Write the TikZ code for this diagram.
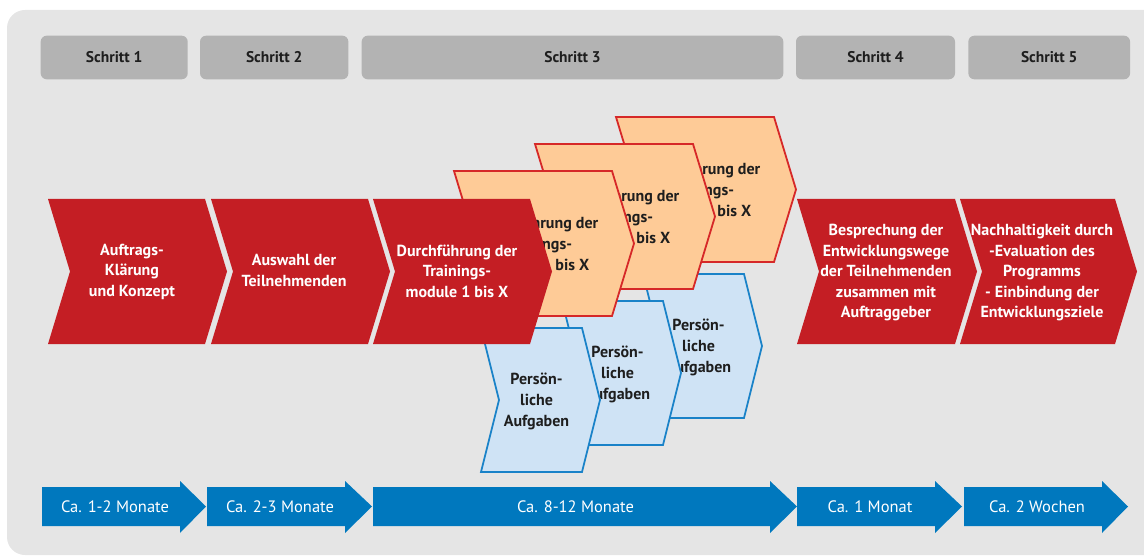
\documentclass[tikz,border=0pt]{standalone}
\usepackage{fontspec}
\setmainfont{PT Sans}
\definecolor{bgc}{HTML}{E5E5E5}
\definecolor{schrittc}{HTML}{B3B3B3}
\definecolor{redc}{HTML}{C41E24}
\definecolor{orfill}{HTML}{FECB97}
\definecolor{orline}{HTML}{D62828}
\definecolor{blfill}{HTML}{CFE3F5}
\definecolor{blline}{HTML}{1982C8}
\definecolor{arrblue}{HTML}{0078BE}
\definecolor{textdark}{HTML}{1E1E1E}
\newcommand\chevshape[6]{\path[#1] (#2,#3) -- ++(#4,0) -- ++(#5,#6/2) -- ++(-#5,#6/2) -- ++(-#4,0) -- ++(#5,-#6/2) -- cycle;}
\newcommand\timearrow[3]{\path[tarrow] (#1,487) -- (#2,487) -- (#2,481) -- (#3,506.5) -- (#2,533) -- (#2,526) -- (#1,526) -- cycle;}
\tikzset{
  redchev/.style={fill=redc},
  orchev/.style={fill=orfill, draw=orline, line width=1.8pt},
  bluchev/.style={fill=blfill, draw=blline, line width=1.8pt},
  tarrow/.style={fill=arrblue},
  schrittbox/.style={fill=schrittc, rounded corners=6pt, minimum height=43.6pt, inner sep=0pt,
    font=\bfseries\fontsize{15.5}{18}\selectfont, text=textdark},
  redtxt/.style={text=white, align=center, inner sep=0pt, font=\bfseries\fontsize{16}{20.5}\selectfont},
  darktxt/.style={text=textdark, align=center, inner sep=0pt, font=\bfseries\fontsize{16}{21}\selectfont},
  arrtxt/.style={text=white, inner sep=0pt, font=\fontsize{16.5}{20}\selectfont},
}
\begin{document}
\begin{tikzpicture}[x=1pt,y=-1pt]
\useasboundingbox (0,0) rectangle (1144,556);
\fill[bgc, rounded corners=18pt] (7,10) rectangle (1175,555);
% step headers
\node[schrittbox, minimum width=147pt] (s1) at (114.2,57.5) {Schritt 1};
\node[schrittbox, minimum width=148.3pt] (s2) at (274.2,57.5) {Schritt 2};
\node[schrittbox, minimum width=421.6pt] (s3) at (572.5,57.5) {Schritt 3};
\node[schrittbox, minimum width=159pt] (s4) at (875.5,57.5) {Schritt 4};
\node[schrittbox, minimum width=161.7pt] (s5) at (1049.2,57.5) {Schritt 5};
% red chevrons 1 and 2
\chevshape{redchev}{48}{199}{157}{22}{145}
\node[redtxt] (r1) at (132,271.5) {Auftrags-\\Klärung\\und Konzept};
\chevshape{redchev}{211}{199}{157}{22}{145}
\node[redtxt] (r2) at (294,270.5) {Auswahl der\\Teilnehmenden};
% blue task chevrons (back to front)
\chevshape{bluchev}{643}{274}{101}{18}{144}
\node[darktxt] (b3) at (698.5,347) {Persön-\\liche\\Aufgaben};
\chevshape{bluchev}{562}{301}{101}{18}{144}
\node[darktxt] (b2) at (617.5,374) {Persön-\\liche\\Aufgaben};
\chevshape{bluchev}{481}{328}{101}{18}{144}
\node[darktxt] (b1) at (536.5,401) {Persön-\\liche\\Aufgaben};
% orange module chevrons (back to front)
\chevshape{orchev}{616}{117}{158}{22}{145}
\node[darktxt] (o3) at (700,190) {Durchführung der\\Trainings-\\module 1 bis X};
\chevshape{orchev}{535}{144}{158}{22}{145}
\node[darktxt] (o2) at (619,217) {Durchführung der\\Trainings-\\module 1 bis X};
\chevshape{orchev}{454}{171}{158}{22}{145}
\node[darktxt] (o1) at (538,244) {Durchführung der\\Trainings-\\module 1 bis X};
% red chevron 3
\chevshape{redchev}{373}{199}{157}{22}{145}
\node[redtxt] (r3) at (457,271) {Durchführung der\\Trainings-\\module 1 bis X};
% red chevrons 4 and 5
\chevshape{redchev}{797}{199}{158}{22}{145}
\node[redtxt] (r4) at (886,273) {Besprechung der\\Entwicklungswege\\der Teilnehmenden\\zusammen mit\\Auftraggeber};
\chevshape{redchev}{960}{199}{155}{22}{145}
\node[redtxt] (r5) at (1042,273) {Nachhaltigkeit durch\\-Evaluation des\\Programms\\- Einbindung der\\Entwicklungsziele};
% time arrows
\timearrow{42}{180}{206}
\node[arrtxt] (t1) at (115,507) {Ca. 1-2 Monate};
\timearrow{207}{345}{372}
\node[arrtxt] (t2) at (280,507) {Ca. 2-3 Monate};
\timearrow{373}{770}{797}
\node[arrtxt] (t3) at (575.5,507) {Ca. 8-12 Monate};
\timearrow{797}{935}{962}
\node[arrtxt] (t4) at (870,507) {Ca. 1 Monat};
\timearrow{964}{1102}{1128}
\node[arrtxt] (t5) at (1037,507) {Ca. 2 Wochen};
\end{tikzpicture}
\end{document}
